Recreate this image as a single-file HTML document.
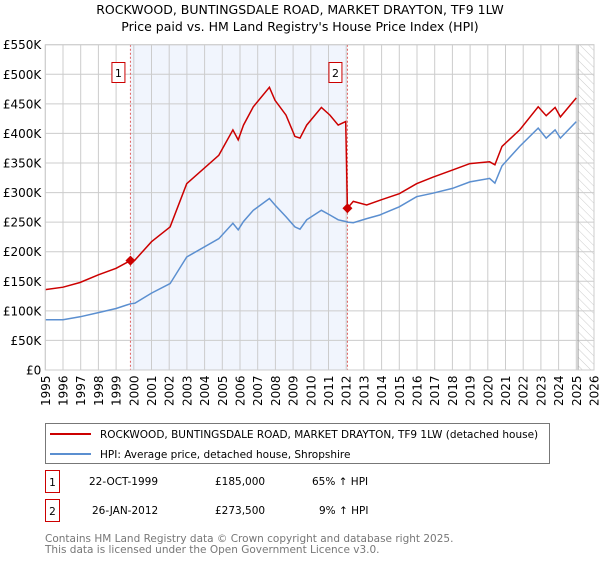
<!DOCTYPE html>
<html><head><meta charset="utf-8"><style>
body{margin:0;background:#fff;font-family:"DejaVu Sans","Liberation Sans",sans-serif;}
svg text{font-family:"DejaVu Sans","Liberation Sans",sans-serif;}
</style></head><body>
<svg width="600" height="560" xmlns="http://www.w3.org/2000/svg">
<defs><pattern id="hatch" width="6" height="6" patternUnits="userSpaceOnUse" patternTransform="rotate(-45)"><line x1="0" y1="0" x2="0" y2="6" stroke="#ccc" stroke-width="1"/></pattern></defs>
<text x="300" y="14" text-anchor="middle" font-size="12.5" fill="#000">ROCKWOOD, BUNTINGSDALE ROAD, MARKET DRAYTON, TF9 1LW</text>
<text x="300" y="31" text-anchor="middle" font-size="12.5" fill="#000">Price paid vs. HM Land Registry's House Price Index (HPI)</text>
<g id="plot"></g>
<g>
<rect x="45.5" y="423.5" width="504" height="40" fill="#fff" stroke="#777"/>
<line x1="50" y1="434" x2="91" y2="434" stroke="#cc0000" stroke-width="2"/>
<text x="100" y="438" font-size="10.5">ROCKWOOD, BUNTINGSDALE ROAD, MARKET DRAYTON, TF9 1LW (detached house)</text>
<line x1="50" y1="454" x2="91" y2="454" stroke="#5b8fd0" stroke-width="2"/>
<text x="100" y="458" font-size="10.5">HPI: Average price, detached house, Shropshire</text>
</g>
<g font-size="10.5">
<rect x="45.5" y="470.5" width="14" height="22" fill="#fff" stroke="#cc0000"/><text x="52.5" y="486" text-anchor="middle">1</text>
<text x="89" y="485">22-OCT-1999</text><text x="215" y="485">£185,000</text><text x="312" y="485">65% ↑ HPI</text>
<rect x="45.5" y="499.5" width="14" height="22" fill="#fff" stroke="#cc0000"/><text x="52.5" y="515" text-anchor="middle">2</text>
<text x="92" y="514">26-JAN-2012</text><text x="215" y="514">£273,500</text><text x="319" y="514">9% ↑ HPI</text>
</g>
<g font-size="10.5">
<text x="45" y="542" fill="#777">Contains HM Land Registry data © Crown copyright and database right 2025.</text>
<text x="45" y="553" fill="#777">This data is licensed under the Open Government Licence v3.0.</text>
</g>
</svg>
<script>
const dates=[1995.0,1996.0,1996.96,1998.0,1999.0,1999.81,2000.07,2001.0,2002.05,2002.99,2004.8,2005.6,2005.9,2006.2,2006.75,2007.66,2007.98,2008.6,2009.1,2009.39,2009.77,2010.6,2011.08,2011.55,2011.97,2012.07,2012.4,2013.16,2013.9,2015.0,2015.98,2016.9,2018.0,2018.99,2020.1,2020.4,2020.8,2021.8,2022.85,2023.3,2023.8,2024.1,2025.0];
const hpiValues=[85,85,90,97,104,112,113,130,146,191,222,248,237,251,270,290,279,259,242,238,254,270,262,254,251,250,249,256,262,276,293,299,307,318,324,316,345,378,409,392,406,392,420];
const priceValues=[136,140,148,161,172,185,186,217,242,315,363,406,389,414,445,478,456,431,395,392,414,444,431,414,420,273.5,285,279,287,298,315,326,338,349,352,347,378,406,445,430,444,428,460];
const saleDates=[1999.81,2012.07];
const salePrices=[185,273.5];
const saleLabels=["1","2"];
const yTicks=[0,50,100,150,200,250,300,350,400,450,500,550];
const yTickLabels=["£0","£50K","£100K","£150K","£200K","£250K","£300K","£350K","£400K","£450K","£500K","£550K"];
const xYears=[1995,1996,1997,1998,1999,2000,2001,2002,2003,2004,2005,2006,2007,2008,2009,2010,2011,2012,2013,2014,2015,2016,2017,2018,2019,2020,2021,2022,2023,2024,2025,2026];
const X0=45.3,X1=594,Y0=370,Y1=44.7,dataEnd=2025.1;
const xs=y=>X0+(y-1995)/(2026-1995)*(X1-X0);
const ys=v=>Y0-v/550*(Y0-Y1);
const NS="http://www.w3.org/2000/svg";
const g=document.getElementById('plot');
function mk(t,a){const e=document.createElementNS(NS,t);for(const k in a)e.setAttribute(k,a[k]);g.appendChild(e);return e;}
let e;
e=mk('rect',{x:xs(saleDates[0]),y:Y1,width:xs(saleDates[1])-xs(saleDates[0]),height:Y0-Y1,fill:'#eef3fc',opacity:0.8});


e=mk('rect',{x:xs(dataEnd),y:Y1,width:X1-xs(dataEnd),height:Y0-Y1,fill:'url(#hatch)'});


yTicks.forEach((v,i)=>{
 e=mk('line',{x1:X0,x2:X1,y1:ys(v),y2:ys(v),stroke:'#ccc','stroke-width':1});
 
 
 e=mk('text',{x:X0-4,y:ys(v)+4.5,'text-anchor':'end','font-size':12});
 e.textContent=yTickLabels[i];
 
 
});
xYears.forEach(yr=>{
 e=mk('line',{x1:xs(yr),x2:xs(yr),y1:Y1,y2:Y0,stroke:'#ccc','stroke-width':1});
 
 
 const tx=xs(yr)+4.5, ty=Y0+36;
 e=mk('text',{x:tx,y:ty,'font-size':12,transform:'rotate(-90 '+tx+' '+ty+')'});
 e.textContent=yr;
 
 
});
e=mk('line',{x1:xs(dataEnd),x2:xs(dataEnd),y1:Y1,y2:Y0,stroke:'#999','stroke-width':1});


saleDates.forEach((d,i)=>{
 e=mk('line',{x1:xs(d),x2:xs(d),y1:Y1,y2:Y0,stroke:'#e06060','stroke-width':1,'stroke-dasharray':'2,2'});
 
 
 e=mk('rect',{x:xs(d)-18.5,y:62.5,width:13,height:20,fill:'#fff',stroke:'#cc0000'});
 
 
 e=mk('text',{x:xs(d)-12,y:77,'text-anchor':'middle','font-size':11});
 e.textContent=saleLabels[i];
 
 
});
function pts(vals){return dates.map((d,i)=>xs(d).toFixed(1)+','+ys(vals[i]).toFixed(1)).join(' ');}
e=mk('polyline',{points:pts(hpiValues),fill:'none',stroke:'#5b8fd0','stroke-width':1.5});


e=mk('polyline',{points:pts(priceValues),fill:'none',stroke:'#cc0000','stroke-width':1.5});


saleDates.forEach((d,i)=>{
 const cx=xs(d),cy=ys(salePrices[i]);
 e=mk('polygon',{points:`${cx},${cy-5} ${cx+5},${cy} ${cx},${cy+5} ${cx-5},${cy}`,fill:'#cc0000'});
 
 
});
e=mk('rect',{x:X0,y:Y1,width:X1-X0,height:Y0-Y1,fill:'none',stroke:'#ccc'});


</script>
</body></html>
